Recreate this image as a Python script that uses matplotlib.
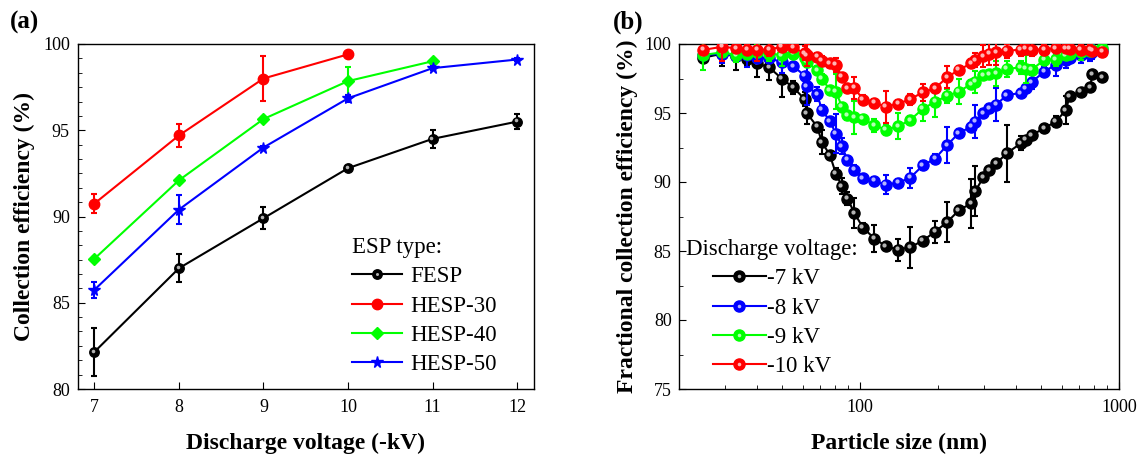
"""Collection efficiency vs discharge voltage (a) and fractional efficiency vs particle size (b)."""

import matplotlib

matplotlib.use("Agg")
import matplotlib.pyplot as plt
from matplotlib.colors import to_rgb
from matplotlib.legend_handler import HandlerTuple
from matplotlib.lines import Line2D
from matplotlib.ticker import FuncFormatter, MultipleLocator, NullFormatter
from matplotlib.transforms import ScaledTranslation

# ---- (a) загальна ефективність ----
voltage = [7, 8, 9, 10, 11, 12]
fesp = [82.15, 87.0, 89.9, 92.8, 94.5, 95.5]
fesp_err = [1.37, 0.8, 0.65, 0.1, 0.5, 0.42]
hesp30 = [90.75, 94.7, 98.0, 99.4]
hesp30_err = [0.56, 0.65, 1.3, 0.05]
hesp40 = [87.55, 92.1, 95.65, 97.85, 99.0]
hesp40_err = [0.1, 0.1, 0.1, 0.83, 0.1]
hesp50 = [85.75, 90.4, 94.0, 96.85, 98.6, 99.1]
hesp50_err = [0.48, 0.85, 0.1, 0.2, 0.1, 0.1]

# ---- (b) фракційна ефективність ----
size_nm = [24.7, 29.3, 33.2, 36.6, 40.0, 44.5, 49.7, 55.1, 61.0, 62.1,
           68.2, 71.0, 76.3, 80.5, 84.9, 89.2, 94.9, 102.3, 113.4, 125.4,
           139.8, 155.7, 174.4, 194.4, 216.6, 240.2, 267.9, 278.2, 298.8, 314.9,
           334.9, 367.7, 416.5, 435.5, 459.3, 513.4, 567.4, 621.9, 642.3, 711.0,
           772.9, 785.4, 857.5]
kv7 = [99.0, 99.3, 99.1, 98.9, 98.6, 98.3, 97.5, 96.85, 96.0, 95.0,
       94.0, 92.9, 91.95, 90.6, 89.7, 88.8, 87.75, 86.7, 85.9, 85.35,
       85.1, 85.27, 85.75, 86.4, 87.1, 87.95, 88.45, 89.35, 90.35, 90.85,
       91.35, 92.08, 92.8, 93.05, 93.4, 93.9, 94.37, 95.2, 96.2, 96.55,
       96.85, 97.8, 97.6]
kv7_err = [0.3, 0.9, 1.0, 0.4, 1.0, 0.9, 1.35, 0.5, 0.5, 0.8,
           0.3, 0.9, 0.2, 0.4, 0.6, 0.5, 1.1, 0.3, 1.0, 0.2,
           0.8, 1.5, 0.2, 0.8, 1.45, 0.3, 1.75, 1.8, 0.3, 0.2,
           0.2, 2.05, 0.5, 0.3, 0.2, 0.2, 0.4, 1.0, 0.2, 0.2,
           0.2, 0.2, 0.2]
kv8 = [99.2, 99.3, 99.1, 99.2, 99.0, 98.95, 98.7, 98.4, 97.7, 96.95,
       96.35, 95.25, 94.4, 93.5, 92.6, 91.6, 90.9, 90.27, 90.08, 89.8,
       89.95, 90.3, 91.2, 91.7, 92.68, 93.55, 94.0, 94.37, 94.98, 95.35,
       95.6, 96.3, 96.45, 96.8, 97.25, 98.0, 98.5, 98.85, 99.0, 99.2,
       99.3, 99.4, 99.55]
kv8_err = [0.2, 0.7, 0.3, 0.9, 0.3, 0.3, 0.8, 0.2, 0.3, 1.4,
           0.5, 0.3, 0.3, 1.4, 0.6, 0.3, 0.3, 0.3, 0.3, 0.7,
           0.3, 0.7, 0.3, 0.3, 1.3, 0.3, 0.3, 1.2, 0.3, 0.3,
           1.2, 0.3, 0.3, 0.3, 0.5, 0.3, 0.8, 0.6, 0.3, 0.6,
           0.5, 0.5, 0.3]
kv9 = [99.2, 99.4, 99.2, 99.3, 99.4, 99.3, 99.2, 99.3, 99.0, 98.7,
       98.1, 97.5, 96.67, 96.55, 95.46, 94.82, 94.7, 94.58, 94.1, 93.8,
       94.03, 94.49, 95.3, 95.82, 96.24, 96.55, 97.1, 97.27, 97.75, 97.83,
       97.88, 98.2, 98.3, 98.2, 98.15, 98.85, 98.9, 99.2, 99.3, 99.45,
       99.5, 99.6, 99.7]
kv9_err = [1.1, 0.3, 0.5, 0.3, 0.6, 0.5, 0.8, 0.3, 0.3, 0.4,
           0.3, 0.3, 0.3, 1.25, 0.3, 0.3, 1.2, 0.3, 0.5, 0.4,
           0.95, 0.3, 0.85, 1.1, 0.5, 0.9, 0.3, 0.8, 0.3, 0.3,
           0.9, 0.6, 0.5, 1.0, 0.3, 0.3, 0.5, 0.3, 0.4, 0.6,
           0.4, 0.5, 0.3]
kv10 = [99.57, 99.8, 99.69, 99.6, 99.57, 99.6, 99.8, 99.75, 99.33, 99.2,
        99.08, 98.8, 98.6, 98.5, 97.63, 96.79, 96.83, 95.97, 95.75, 95.46,
        95.66, 96.0, 96.5, 96.79, 97.6, 98.12, 98.6, 98.84, 99.1, 99.3,
        99.4, 99.5, 99.6, 99.65, 99.6, 99.6, 99.7, 99.7, 99.65, 99.6,
        99.6, 99.5, 99.44]
kv10_err = [0.3, 1.0, 0.3, 0.3, 0.8, 0.5, 0.3, 0.3, 0.5, 0.8,
            0.3, 0.3, 0.3, 0.5, 0.3, 0.3, 0.8, 0.3, 0.3, 1.15,
            0.3, 0.4, 0.6, 0.3, 0.8, 0.3, 0.3, 0.5, 0.8, 0.8,
            0.9, 0.5, 0.5, 0.3, 0.5, 0.4, 0.3, 0.3, 0.3, 0.3,
            0.3, 0.3, 0.3]

BLACK, RED, GREEN, BLUE = "#000000", "#ff0000", "#00ff00", "#0000ff"

plt.rcParams.update({
    "font.family": ["Liberation Serif", "DejaVu Serif"],
    "font.size": 13,
    "axes.linewidth": 1.0,
    "xtick.direction": "in",
    "ytick.direction": "in",
    "xtick.major.size": 5,
    "ytick.major.size": 5,
    "xtick.minor.size": 3,
    "ytick.minor.size": 3,
    "xtick.major.pad": 7,
    "ytick.major.pad": 5.5,
    "xtick.labelsize": 13,
    "ytick.labelsize": 13,
    "legend.fontsize": 16.5,
})


def _light(color, k=0.7):
    return tuple(c + (1 - c) * k for c in to_rgb(color))


def _highlight(ax, x, y, color, ms, z):
    """Відблиск на кульці, щоб маркер виглядав об'ємним."""
    shift = ScaledTranslation(-ms * 0.13 / 72, ms * 0.13 / 72, ax.figure.dpi_scale_trans)
    ax.plot(x, y, "o", ms=ms * 0.38, color=_light(color), mec="none",
            transform=ax.transData + shift, zorder=z + 0.1)


def _series(ax, x, y, err, color, marker, ms, z, ball=False):
    ax.errorbar(x, y, yerr=err, fmt="-" + marker, color=color, ms=ms, mec=color, lw=1.5,
                elinewidth=1.5, capsize=2.5, capthick=1.5, zorder=z)
    if ball:
        _highlight(ax, x, y, color, ms, z)


def _handle(color, marker, ms, ball=False):
    line = Line2D([], [], color=color, marker=marker, ms=ms, lw=1.5)
    if not ball:
        return line
    glow = Line2D([], [], color=_light(color), marker="o", ms=ms * 0.32, lw=0, mec="none")
    return (line, glow)


fig = plt.figure(figsize=(11.45, 4.54), dpi=100)
W, H = 1145, 454
overlay = {tuple: HandlerTuple(ndivide=1)}

# ---- (a) ----
ax1 = fig.add_axes([77.5 / W, 1 - 389 / H, 456.5 / W, 345 / H])
_series(ax1, voltage, fesp, fesp_err, BLACK, "o", 6.8, 2, ball=True)
_series(ax1, voltage[:4], hesp30, hesp30_err, RED, "o", 7.5, 3)
_series(ax1, voltage[:5], hesp40, hesp40_err, GREEN, "D", 6.2, 4)
_series(ax1, voltage, hesp50, hesp50_err, BLUE, "*", 8.5, 5)

ax1.set_xlim(6.8, 12.2)
ax1.set_ylim(80, 100)
ax1.xaxis.set_major_locator(MultipleLocator(1))
ax1.yaxis.set_major_locator(MultipleLocator(5))
ax1.yaxis.set_minor_locator(MultipleLocator(5 / 6))
ax1.set_xlabel("Discharge voltage (-kV)", fontsize=17, fontweight="bold", labelpad=12)
ax1.set_ylabel("Collection efficiency (%)", fontsize=17, fontweight="bold", labelpad=6)

handles = [_handle(BLACK, "o", 6.8, ball=True), _handle(RED, "o", 7.5),
           _handle(GREEN, "D", 6.2), _handle(BLUE, "*", 8.5)]
ax1.legend(handles, ["FESP", "HESP-30", "HESP-40", "HESP-50"], title="ESP type:",
           title_fontsize=16.5, loc="upper left", bbox_to_anchor=(352 / W, 1 - 237 / H),
           bbox_transform=fig.transFigure, frameon=False, borderpad=0, borderaxespad=0,
           handlelength=2.2, handletextpad=0.35, labelspacing=0.36, alignment="left",
           handler_map=overlay)

# ---- (b) ----
ax2 = fig.add_axes([679.3 / W, 1 - 389 / H, 440 / W, 345 / H])
for z, (vals, errs, col) in enumerate([(kv7, kv7_err, BLACK), (kv8, kv8_err, BLUE),
                                        (kv9, kv9_err, GREEN), (kv10, kv10_err, RED)]):
    _series(ax2, size_nm, vals, errs, col, "o", 8, 2 + z, ball=True)

ax2.set_xscale("log")
ax2.set_xlim(20, 1000)
ax2.set_ylim(75, 100)
ax2.yaxis.set_major_locator(MultipleLocator(5))
ax2.yaxis.set_minor_locator(MultipleLocator(2.5))
ax2.xaxis.set_major_formatter(FuncFormatter(lambda v, p: f"{v:g}"))
ax2.xaxis.set_minor_formatter(NullFormatter())
ax2.set_xlabel("Particle size (nm)", fontsize=17, fontweight="bold", labelpad=12)
ax2.set_ylabel("Fractional collection efficiency (%)", fontsize=17, fontweight="bold", labelpad=5)

handles = [_handle(c, "o", 8, ball=True) for c in (BLACK, BLUE, GREEN, RED)]
ax2.legend(handles, ["-7 kV", "-8 kV", "-9 kV", "-10 kV"], title="Discharge voltage:",
           title_fontsize=16.5, loc="upper left", bbox_to_anchor=(686 / W, 1 - 239 / H),
           bbox_transform=fig.transFigure, frameon=False, borderpad=0, borderaxespad=0,
           handlelength=2.3, handletextpad=0.05, labelspacing=0.36, handler_map=overlay)

fig.text(10 / W, 1 - 22 / H, "(a)", fontsize=18, fontweight="bold", va="center")
fig.text(613 / W, 1 - 22 / H, "(b)", fontsize=18, fontweight="bold", va="center")

fig.savefig("out.png", dpi=100)
